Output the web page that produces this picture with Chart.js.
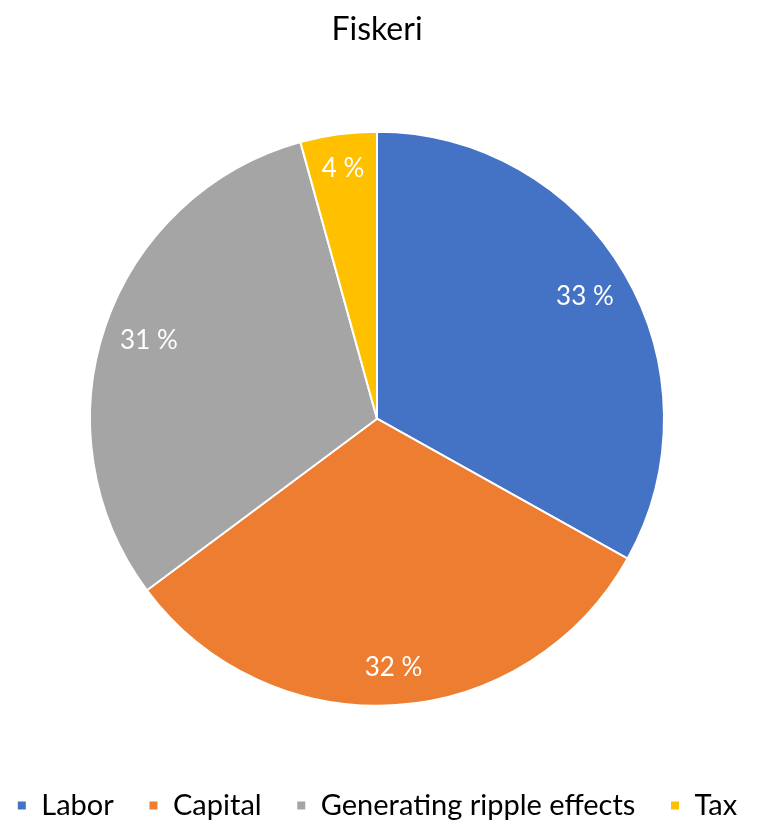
<!DOCTYPE html>
<html>
<head>
<meta charset="utf-8">
<script src="https://cdn.jsdelivr.net/npm/chart.js@4"></script>
<style>
  html, body { margin: 0; padding: 0; background: #fff; }
  #wrap { width: 764px; height: 822px; }
</style>
</head>
<body>
<div id="wrap"><canvas id="pieChart"></canvas></div>
<script>
const labels = ['Labor', 'Capital', 'Generating ripple effects', 'Tax'];
const shares = [33.1, 31.7, 30.9, 4.3];
const sliceLabels = ['33 %', '32 %', '31 %', '4 %'];
const colors = ['#4472C4', '#ED7D31', '#A5A5A5', '#FFC000'];

// white percentage text inside each slice, near the rim
const labelDist = [0.84, 0.87, 0.84, 0.88];
const sliceText = {
  id: 'sliceText',
  afterDatasetsDraw(chart) {
    const c = chart.ctx;
    const arcs = chart.getDatasetMeta(0).data;
    c.save();
    c.font = 'normal 26px Lato, sans-serif';
    c.fillStyle = '#fff';
    c.textAlign = 'center';
    c.textBaseline = 'middle';
    arcs.forEach((arc, i) => {
      const p = arc.getProps(['x','y','startAngle','endAngle','outerRadius'], true);
      const mid = (p.startAngle + p.endAngle) / 2;
      const r = p.outerRadius * labelDist[i];
      c.fillText(sliceLabels[i], p.x + Math.cos(mid) * r, p.y + Math.sin(mid) * r);
    });
    c.restore();
  }
};

const baseLabels = Chart.overrides.pie.plugins.legend.labels.generateLabels;

new Chart(document.getElementById('pieChart'), {
  type: 'pie',
  data: {
    labels: labels,
    datasets: [{
      data: shares,
      backgroundColor: colors,
      borderColor: '#fff',
      borderWidth: 2,
      radius: 287
    }]
  },
  options: {
    responsive: true,
    maintainAspectRatio: false,
    animation: false,
    layout: { padding: { left: 0, right: 10, top: 0, bottom: -8 } },
    plugins: {
      title: {
        display: true,
        text: 'Fiskeri',
        color: '#000',
        font: { family: 'Lato', size: 32, weight: 'normal' },
        padding: { top: 10, bottom: 0 }
      },
      legend: {
        position: 'bottom',
        labels: {
          color: '#000',
          font: { family: 'Lato', size: 29 },
          boxWidth: 10,
          boxHeight: 10,
          padding: 2,
          // wider gaps between entries without tripping the row wrap
          generateLabels(chart) {
            return baseLabels(chart).map((it, i, all) => {
              if (i < all.length - 1) it.text += '\u2002\u2002\u2009';
              return it;
            });
          }
        }
      },
      tooltip: { enabled: false }
    }
  },
  plugins: [sliceText]
});
</script>
</body>
</html>
